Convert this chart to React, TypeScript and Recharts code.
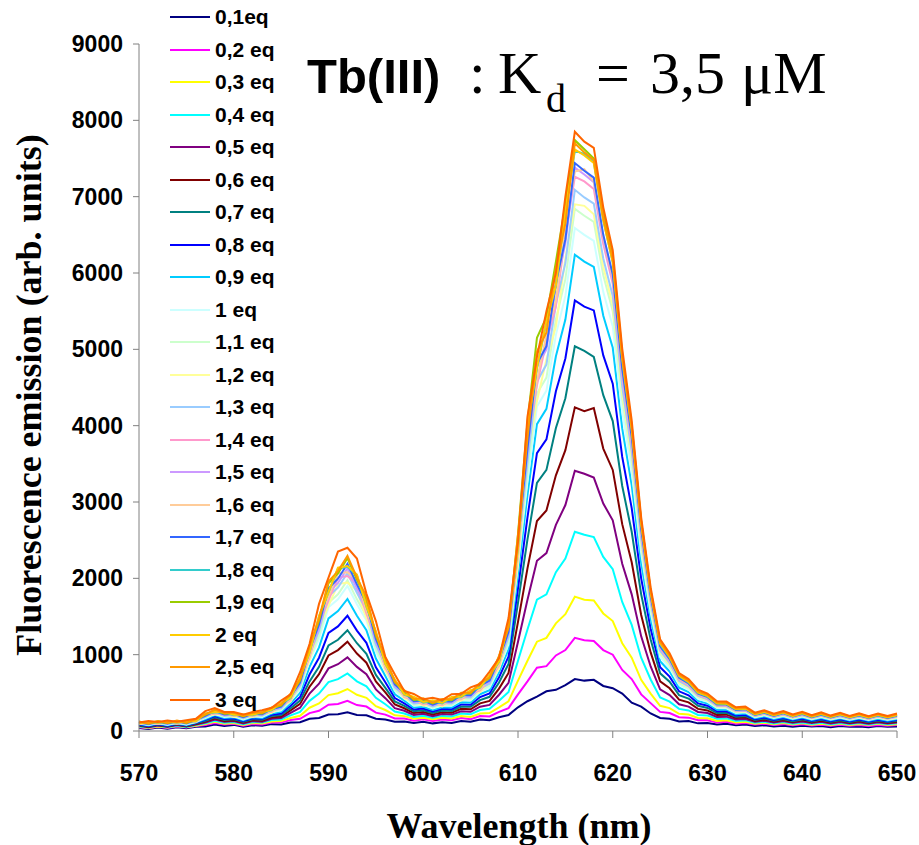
import { LineChart, Line, XAxis, YAxis } from 'recharts';

// wavelength (nm), 1 nm steps
const wavelengths = [
  570, 571, 572, 573, 574, 575, 576, 577, 578, 579,
  580, 581, 582, 583, 584, 585, 586, 587, 588, 589,
  590, 591, 592, 593, 594, 595, 596, 597, 598, 599,
  600, 601, 602, 603, 604, 605, 606, 607, 608, 609,
  610, 611, 612, 613, 614, 615, 616, 617, 618, 619,
  620, 621, 622, 623, 624, 625, 626, 627, 628, 629,
  630, 631, 632, 633, 634, 635, 636, 637, 638, 639,
  640, 641, 642, 643, 644, 645, 646, 647, 648, 649,
  650,
];

const xTicks = [570, 580, 590, 600, 610, 620, 630, 640, 650];
const yTicks = [0, 1000, 2000, 3000, 4000, 5000, 6000, 7000, 8000, 9000];

// emission intensities, one array per Tb(III) equivalent
const eq01 = [
  40, 25, 45, 30, 50, 35, 55, 60, 85, 65,
  80, 55, 75, 70, 90, 85, 110, 115, 160, 170,
  215, 220, 245, 210, 205, 160, 150, 120, 125, 105,
  120, 100, 115, 105, 130, 120, 150, 140, 180, 210,
  310, 390, 450, 520, 540, 600, 680, 660, 670, 590,
  560, 490, 370, 320, 230, 170, 160, 125, 130, 100,
  105, 85, 95, 75, 85, 65, 75, 60, 70, 55,
  70, 60, 65, 50, 65, 55, 60, 50, 65, 55,
  60,
];
const eq02 = [
  50, 35, 55, 40, 60, 45, 65, 80, 105, 85,
  95, 70, 90, 85, 110, 110, 145, 160, 235, 265,
  345, 355, 395, 340, 320, 240, 215, 165, 165, 135,
  155, 130, 150, 140, 170, 155, 195, 190, 250, 300,
  480, 650, 830, 850, 990, 1060, 1220, 1190, 1180, 1060,
  1000, 800, 680, 480, 365, 250, 235, 180, 175, 140,
  140, 110, 120, 95, 105, 85, 95, 78, 90, 75,
  88, 72, 82, 70, 82, 68, 80, 66, 80, 70,
  78,
];
const eq03 = [
  55, 40, 60, 45, 65, 50, 70, 90, 120, 95,
  105, 80, 105, 98, 125, 130, 170, 200, 305, 360,
  470, 495, 550, 475, 435, 325, 275, 205, 195, 160,
  175, 155, 175, 165, 195, 185, 230, 235, 310, 390,
  660, 920, 1170, 1220, 1410, 1530, 1760, 1720, 1710, 1540,
  1440, 1150, 960, 670, 490, 330, 300, 225, 215, 170,
  168, 132, 142, 112, 122, 95, 108, 90, 104, 86,
  100, 82, 96, 80, 95, 80, 92, 78, 94, 80,
  90,
];
const eq04 = [
  60, 45, 68, 50, 70, 52, 78, 100, 135, 108,
  118, 90, 118, 110, 145, 150, 205, 250, 395, 490,
  640, 680, 755, 650, 585, 435, 350, 255, 230, 185,
  200, 175, 198, 190, 228, 220, 275, 290, 395, 510,
  920, 1330, 1720, 1790, 2080, 2260, 2610, 2570, 2540, 2280,
  2120, 1690, 1390, 960, 675, 440, 385, 290, 270, 210,
  202, 160, 165, 132, 142, 108, 122, 100, 118, 96,
  112, 92, 108, 90, 106, 88, 104, 86, 104, 90,
  100,
];
const eq05 = [
  68, 50, 72, 55, 78, 58, 85, 112, 150, 120,
  130, 100, 130, 122, 160, 170, 238, 305, 490, 620,
  820, 875, 965, 840, 745, 545, 430, 300, 265, 210,
  225, 195, 222, 215, 258, 252, 318, 342, 475, 630,
  1170, 1720, 2230, 2330, 2700, 2960, 3410, 3370, 3320, 2980,
  2760, 2190, 1790, 1240, 845, 545, 470, 350, 320, 250,
  236, 185, 188, 150, 158, 120, 135, 112, 130, 108,
  125, 104, 120, 100, 118, 98, 115, 96, 114, 98,
  110,
];
const eq06 = [
  75, 55, 80, 60, 85, 64, 92, 124, 165, 132,
  142, 112, 142, 135, 178, 190, 270, 355, 580, 745,
  990, 1060, 1170, 1015, 895, 650, 505, 348, 298, 235,
  248, 215, 245, 240, 290, 285, 362, 395, 555, 760,
  1430, 2130, 2750, 2890, 3350, 3680, 4240, 4190, 4230, 3700,
  3420, 2710, 2210, 1520, 1030, 650, 560, 410, 375, 290,
  270, 210, 214, 170, 178, 132, 150, 124, 145, 118,
  140, 114, 134, 110, 130, 108, 128, 106, 126, 108,
  122,
];
const eq07 = [
  80, 62, 86, 66, 90, 70, 100, 135, 178, 145,
  155, 122, 155, 148, 195, 210, 298, 398, 650, 840,
  1120, 1195, 1320, 1150, 1010, 735, 565, 388, 328, 258,
  272, 235, 268, 262, 320, 318, 405, 448, 635, 880,
  1680, 2510, 3250, 3420, 3970, 4360, 5040, 4980, 4900, 4400,
  4060, 3210, 2610, 1790, 1200, 755, 645, 470, 425, 330,
  302, 235, 238, 188, 195, 144, 165, 135, 158, 128,
  152, 124, 146, 120, 142, 118, 140, 115, 138, 118,
  134,
];
const eq08 = [
  88, 66, 92, 70, 96, 74, 108, 146, 195, 158,
  168, 132, 168, 160, 212, 230, 330, 445, 740, 960,
  1285, 1370, 1510, 1315, 1155, 835, 638, 432, 362, 282,
  295, 255, 290, 285, 348, 345, 445, 492, 705, 975,
  1870, 2800, 3640, 3820, 4450, 4880, 5640, 5560, 5510, 4920,
  4550, 3590, 2920, 2000, 1340, 835, 712, 520, 468, 362,
  332, 258, 258, 204, 212, 156, 178, 146, 170, 140,
  165, 134, 158, 130, 154, 128, 150, 125, 148, 126,
  146,
];
const eq09 = [
  94, 72, 98, 76, 102, 80, 115, 158, 208, 170,
  180, 142, 180, 172, 228, 250, 362, 500, 840, 1095,
  1475, 1570, 1730, 1510, 1320, 950, 720, 482, 398, 308,
  318, 275, 312, 308, 378, 375, 482, 535, 770, 1070,
  2060, 3090, 4020, 4220, 4910, 5390, 6240, 6150, 6080, 5440,
  5020, 3960, 3220, 2200, 1470, 915, 780, 568, 510, 395,
  360, 280, 280, 220, 230, 168, 192, 158, 184, 150,
  178, 145, 170, 140, 166, 138, 162, 134, 160, 136,
  158,
];
const eq10 = [
  100, 78, 105, 82, 108, 86, 122, 170, 222, 182,
  192, 152, 192, 185, 245, 270, 392, 545, 920, 1205,
  1620, 1725, 1900, 1660, 1450, 1040, 785, 525, 430, 332,
  342, 295, 335, 330, 405, 400, 515, 570, 820, 1135,
  2180, 3270, 4250, 4460, 5190, 5700, 6590, 6500, 6420, 5750,
  5300, 4190, 3400, 2330, 1555, 970, 825, 605, 542, 422,
  382, 300, 298, 236, 245, 180, 205, 170, 196, 162,
  190, 155, 182, 150, 178, 148, 174, 144, 172, 146,
  168,
];
const eq11 = [
  104, 82, 110, 86, 114, 90, 128, 176, 232, 190,
  200, 160, 200, 194, 255, 282, 408, 568, 955, 1250,
  1680, 1790, 1975, 1725, 1505, 1080, 815, 545, 446, 345,
  355, 305, 348, 342, 420, 415, 535, 592, 850, 1180,
  2260, 3400, 4420, 4630, 5390, 5920, 6840, 6750, 6670, 5970,
  5500, 4350, 3530, 2420, 1615, 1010, 856, 630, 562, 440,
  398, 312, 310, 246, 254, 188, 212, 176, 204, 168,
  196, 162, 188, 158, 184, 154, 180, 150, 178, 152,
  175,
];
const eq12 = [
  90, 106, 92, 110, 96, 112, 114, 200, 215, 220,
  185, 190, 184, 218, 240, 320, 385, 625, 925, 1355,
  1640, 1925, 1945, 1840, 1475, 1170, 790, 600, 425, 390,
  332, 350, 322, 390, 398, 468, 508, 650, 815, 1275,
  2180, 3620, 4320, 4870, 5300, 6190, 6900, 6880, 6770, 6080,
  5580, 4430, 3590, 2460, 1640, 1030, 872, 642, 572, 450,
  405, 320, 316, 252, 260, 192, 218, 180, 210, 172,
  200, 166, 194, 162, 190, 158, 184, 154, 182, 156,
  180,
];
const eq13 = [
  108, 86, 114, 90, 118, 94, 134, 186, 244, 200,
  210, 168, 210, 204, 268, 298, 428, 598, 1000, 1315,
  1765, 1880, 2070, 1810, 1580, 1135, 855, 572, 468, 362,
  372, 322, 365, 360, 440, 438, 560, 620, 885, 1230,
  2350, 3530, 4580, 4800, 5590, 6130, 7090, 6990, 6910, 6190,
  5700, 4510, 3660, 2510, 1680, 1050, 892, 656, 585, 460,
  415, 326, 324, 258, 266, 196, 224, 184, 215, 176,
  206, 170, 198, 166, 194, 162, 190, 158, 188, 160,
  185,
];
const eq14 = [
  94, 110, 96, 114, 100, 118, 120, 210, 226, 230,
  195, 198, 194, 228, 252, 336, 402, 655, 965, 1415,
  1710, 2010, 2030, 1920, 1540, 1220, 825, 628, 445, 410,
  348, 368, 338, 410, 416, 492, 532, 682, 855, 1340,
  2280, 3800, 4530, 5110, 5560, 6500, 7260, 7200, 7100, 6380,
  5860, 4640, 3760, 2580, 1725, 1080, 915, 675, 600, 472,
  425, 335, 332, 265, 272, 200, 228, 190, 220, 180,
  212, 175, 204, 170, 198, 166, 194, 162, 192, 164,
  190,
];
const eq15 = [
  112, 90, 118, 94, 122, 98, 138, 194, 252, 208,
  216, 176, 218, 212, 278, 310, 442, 618, 1030, 1355,
  1820, 1940, 2130, 1865, 1625, 1170, 882, 592, 485, 376,
  386, 335, 378, 374, 456, 455, 580, 645, 918, 1280,
  2440, 3670, 4770, 5000, 5820, 6390, 7380, 7290, 7190, 6450,
  5930, 4700, 3810, 2610, 1745, 1095, 926, 685, 608, 478,
  432, 340, 336, 268, 276, 204, 232, 192, 224, 184,
  215, 176, 206, 172, 202, 168, 198, 164, 196, 166,
  192,
];
const eq16 = [
  96, 112, 100, 116, 104, 120, 122, 215, 232, 235,
  198, 202, 198, 232, 258, 344, 412, 672, 990, 1455,
  1760, 2065, 2080, 1975, 1580, 1255, 848, 645, 455, 420,
  356, 376, 345, 420, 425, 502, 545, 698, 868, 1362,
  2310, 3860, 4600, 5190, 5640, 6590, 7330, 7360, 7200, 6470,
  5940, 4720, 3820, 2625, 1750, 1100, 930, 688, 612, 482,
  436, 342, 340, 270, 280, 206, 235, 195, 226, 186,
  218, 178, 210, 174, 205, 170, 200, 166, 198, 168,
  195,
];
const eq17 = [
  116, 92, 122, 98, 126, 102, 142, 200, 260, 216,
  224, 182, 225, 220, 286, 320, 456, 636, 1062, 1395,
  1870, 1995, 2190, 1920, 1672, 1205, 908, 610, 500, 390,
  398, 345, 390, 386, 470, 468, 595, 660, 935, 1300,
  2470, 3700, 4810, 5040, 5870, 6440, 7440, 7340, 7250, 6500,
  5980, 4740, 3850, 2640, 1765, 1110, 942, 698, 622, 488,
  444, 348, 346, 276, 285, 210, 240, 198, 232, 190,
  222, 182, 214, 178, 210, 174, 204, 170, 202, 172,
  200,
];
const eq18 = [
  100, 118, 104, 120, 108, 126, 128, 226, 242, 246,
  208, 212, 206, 244, 270, 360, 430, 696, 1025, 1500,
  1815, 2130, 2150, 2040, 1630, 1295, 875, 668, 472, 440,
  372, 394, 362, 438, 442, 524, 568, 725, 902, 1410,
  2395, 3990, 4750, 5360, 5830, 6820, 7600, 7560, 7450, 6690,
  6140, 4870, 3950, 2710, 1810, 1140, 965, 715, 636, 500,
  454, 356, 354, 282, 292, 215, 246, 204, 238, 194,
  228, 186, 220, 182, 215, 178, 210, 174, 206, 176,
  205,
];
const eq19 = [
  120, 96, 126, 102, 132, 106, 148, 210, 272, 226,
  234, 190, 235, 230, 300, 334, 475, 662, 1100, 1445,
  1935, 2065, 2265, 1985, 1730, 1250, 942, 635, 522, 408,
  416, 360, 408, 404, 490, 490, 620, 690, 975, 1360,
  2580, 4050, 5150, 5420, 6150, 6900, 7740, 7620, 7500, 6780,
  6220, 4940, 4000, 2750, 1840, 1160, 980, 728, 648, 510,
  462, 364, 360, 290, 298, 222, 252, 210, 244, 200,
  236, 192, 226, 188, 222, 184, 216, 180, 214, 182,
  212,
];
const eq20 = [
  102, 120, 108, 124, 112, 128, 132, 230, 248, 250,
  212, 216, 212, 250, 276, 366, 438, 702, 1030, 1510,
  1820, 2140, 2160, 2050, 1640, 1305, 880, 676, 480, 448,
  380, 402, 370, 446, 452, 534, 575, 735, 910, 1420,
  2400, 4000, 4760, 5370, 5840, 6820, 7620, 7540, 7440, 6690,
  6140, 4880, 3950, 2720, 1815, 1150, 972, 722, 644, 506,
  460, 362, 360, 288, 296, 220, 250, 208, 242, 198,
  234, 190, 224, 186, 220, 182, 214, 178, 212, 180,
  210,
];
const eq25 = [
  124, 100, 130, 106, 136, 110, 152, 218, 280, 234,
  240, 196, 242, 238, 308, 344, 488, 676, 1120, 1470,
  1960, 2095, 2295, 2010, 1760, 1270, 960, 650, 535, 420,
  428, 372, 420, 416, 502, 502, 632, 700, 985, 1360,
  2570, 3840, 4970, 5220, 6060, 6650, 7700, 7580, 7480, 6720,
  6180, 4900, 3980, 2740, 1835, 1165, 988, 735, 656, 518,
  472, 372, 368, 296, 305, 228, 260, 215, 250, 206,
  242, 198, 232, 194, 228, 190, 222, 186, 220, 188,
  218,
];
const eq30 = [
  112, 130, 118, 136, 122, 142, 160, 260, 300, 250,
  248, 215, 250, 272, 305, 398, 480, 770, 1140, 1665,
  2010, 2350, 2400, 2260, 1800, 1440, 970, 740, 525, 485,
  415, 436, 405, 482, 488, 572, 615, 778, 955, 1480,
  2480, 4120, 4900, 5500, 6000, 7000, 7850, 7720, 7640, 6860,
  6300, 5010, 4070, 2800, 1880, 1200, 1020, 760, 680, 540,
  490, 388, 385, 310, 320, 240, 272, 226, 262, 216,
  252, 208, 244, 202, 238, 198, 232, 195, 230, 198,
  228,
];

const seriesNames = [
  '0,1eq', '0,2 eq', '0,3 eq', '0,4 eq', '0,5 eq', '0,6 eq', '0,7 eq', '0,8 eq',
  '0,9 eq', '1 eq', '1,1 eq', '1,2 eq', '1,3 eq', '1,4 eq', '1,5 eq', '1,6 eq',
  '1,7 eq', '1,8 eq', '1,9 eq', '2 eq', '2,5 eq', '3 eq',
];
const seriesColors = [
  '#000080', '#FF00FF', '#FFFF00', '#00FFFF', '#800080', '#800000', '#008080', '#0000FF',
  '#00CCFF', '#CCFFFF', '#CCFFCC', '#FFFF99', '#99CCFF', '#FF99CC', '#CC99FF', '#FFCC99',
  '#3366FF', '#33CCCC', '#99CC00', '#FFCC00', '#FF9900', '#FF6600',
];
const seriesValues = [
  eq01, eq02, eq03, eq04, eq05, eq06, eq07, eq08, eq09, eq10, eq11,
  eq12, eq13, eq14, eq15, eq16, eq17, eq18, eq19, eq20, eq25, eq30,
];

const rows = wavelengths.map((wl, i) => {
  const row: Record<string, number> = { wl };
  seriesValues.forEach((vals, k) => {
    row['s' + k] = vals[i];
  });
  return row;
});

const SANS = '"Liberation Sans", Arial, sans-serif';
const SERIF = '"Liberation Serif", "Times New Roman", serif';
const tickStyle = { fill: '#000', fontSize: 23, fontWeight: 700, fontFamily: SANS };

const App = () => {
  return (
    <div style={{ position: 'absolute', left: 0, top: 0, width: 919, height: 845, background: '#fff' }}>
      <LineChart width={919} height={845} data={rows} margin={{ top: 44, right: 22, bottom: 0, left: 0 }}>
        <XAxis
          dataKey="wl"
          type="number"
          domain={[570, 650]}
          ticks={xTicks}
          interval={0}
          height={114}
          tick={tickStyle}
          tickSize={7}
          tickMargin={27}
          stroke="#808080"
        />
        <YAxis
          type="number"
          domain={[0, 9000]}
          ticks={yTicks}
          interval={0}
          width={139}
          tick={tickStyle}
          tickSize={6}
          tickMargin={10}
          stroke="#808080"
        />
        {seriesValues.map((_, k) => (
          <Line
            key={k}
            dataKey={'s' + k}
            type="linear"
            stroke={seriesColors[k]}
            strokeWidth={2}
            dot={false}
            isAnimationActive={false}
          />
        ))}
      </LineChart>

      {/* legend, drawn over the plot like the original */}
      <div style={{ position: 'absolute', left: 170, top: 1, fontFamily: SANS, fontWeight: 700, fontSize: 21 }}>
        {seriesNames.map((name, k) => (
          <div key={name} style={{ display: 'flex', alignItems: 'center', height: 32.5 }}>
            <span style={{ display: 'inline-block', width: 40, height: 2, background: seriesColors[k] }} />
            <span style={{ marginLeft: 5, color: '#000', whiteSpace: 'nowrap' }}>{name}</span>
          </div>
        ))}
      </div>

      <svg width={919} height={845} style={{ position: 'absolute', left: 0, top: 0, pointerEvents: 'none' }}>
        <text x={307} y={93} fontFamily={SANS} fontWeight={700} fontSize={49}>Tb(III)</text>
        <text x={469} y={93} fontFamily={SERIF} fontSize={60}>:</text>
        <text x={498} y={93} fontFamily={SERIF} fontSize={60}>K</text>
        <text x={546} y={112} fontFamily={SERIF} fontSize={40}>d</text>
        <text x={596} y={93} fontFamily={SERIF} fontSize={60}>=</text>
        <text x={650} y={93} fontFamily={SERIF} fontSize={60}>3,5</text>
        <text x={741} y={93} fontFamily={SERIF} fontSize={60}>μM</text>
        <text
          x={-395}
          y={41}
          transform="rotate(-90)"
          textAnchor="middle"
          fontFamily={SERIF}
          fontWeight={700}
          fontSize={36}
        >
          Fluorescence emission (arb. units)
        </text>
        <text x={519} y={838} textAnchor="middle" fontFamily={SERIF} fontWeight={700} fontSize={36}>
          Wavelength (nm)
        </text>
      </svg>
    </div>
  );
};

export default App;
